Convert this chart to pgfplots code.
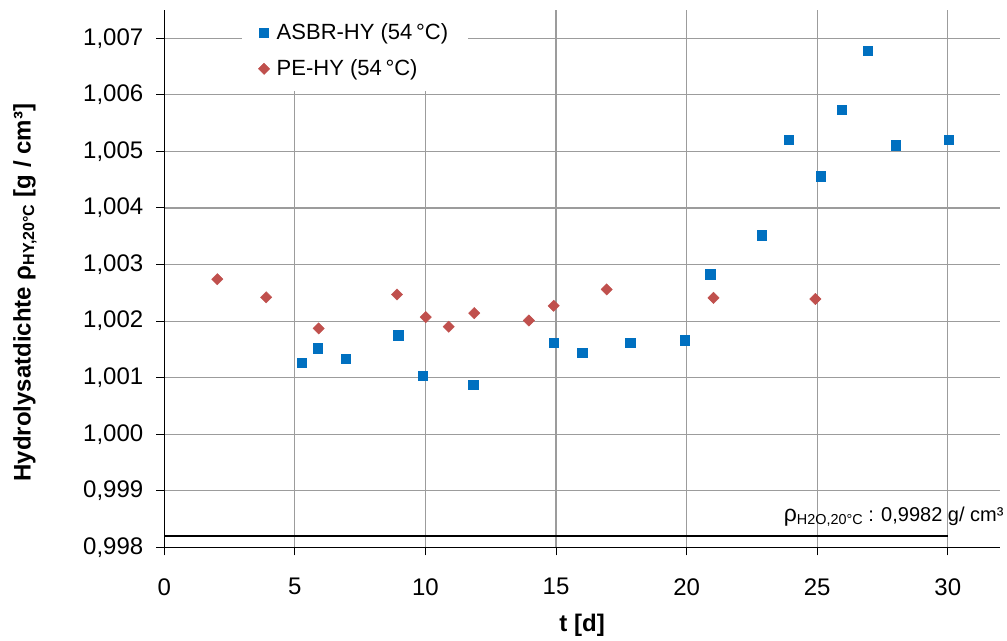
\documentclass[border=0pt]{standalone}
\usepackage{fontspec}
\setmainfont{Liberation Sans}
\usepackage{pgfplots}
\pgfplotsset{compat=1.18}
\definecolor{asbr}{HTML}{0070C0}
\definecolor{pe}{HTML}{C0504D}
\definecolor{gridc}{HTML}{9C9C9C}
\begin{document}
\begin{tikzpicture}
\begin{axis}[
  scale only axis, width=417.85pt, height=268.65pt,
  xmin=0, xmax=32, ymin=0.998, ymax=1.0075,
  axis x line*=bottom, axis y line*=left,
  xtick={0,5,10,15,20,25,30},
  ytick={0.998,0.999,1.000,1.001,1.002,1.003,1.004,1.005,1.006,1.007},
  grid=major, major grid style={gridc, line width=0.55pt},
  tick align=outside, major tick length=4pt,
  tick style={black, line width=0.5pt},
  axis line style={black, line width=0.65pt},
  scaled y ticks=false,
  yticklabel style={xshift=-3pt, /pgf/number format/.cd, fixed, fixed zerofill, precision=3, use comma, assume math mode=true},
  xticklabel style={yshift=-8pt, /pgf/number format/assume math mode=true},
  ticklabel style={font=\fontsize{12}{14}\selectfont},
  clip=false,
  every axis y label/.style={at={(axis description cs:-0.1667,0.474)}, rotate=90, anchor=center, font=\fontsize{12}{14}\selectfont\bfseries},
  every axis x label/.style={at={(axis description cs:0.5,-0.1446)}, anchor=center, font=\fontsize{12}{14}\selectfont\bfseries},
  ylabel={Hydrolysatdichte ρ\textsubscript{HY,20°C} [g / cm³]},
  xlabel={t [d]},
  legend style={at={(0.093,1)}, anchor=north west, draw=none, fill=white, font=\fontsize{11}{13}\selectfont, inner xsep=8pt, inner ysep=4.5pt, row sep=4.5pt, /tikz/column sep=1.5pt},
  legend cell align=left,
  legend image code/.code={\draw[#1] plot coordinates {(0pt,0pt)};},
]
\addplot[black, line width=1.35pt, forget plot] coordinates {(0,0.9982) (30,0.9982)};
\addplot[only marks, mark=square*, mark size=2.3pt, mark options={fill=asbr, draw=asbr, line width=0.2pt}] coordinates {
(5.26,1.00126) (5.86,1.00152) (6.95,1.00133) (8.96,1.00175) (9.90,1.00104)
(11.83,1.00088) (14.91,1.00162) (16.0,1.00144) (17.84,1.00162) (19.94,1.00166)
(20.9,1.00283) (22.89,1.00352) (23.9,1.00520) (25.14,1.00456) (25.94,1.00574)
(26.93,1.00678) (28.01,1.00511) (30.04,1.00520)};
\addlegendentry{ASBR-HY (54\,°C)}
\addplot[only marks, mark=square*, mark size=2.0pt, mark options={rotate=45, fill=pe, draw=pe, line width=0.2pt}] coordinates {
(2.03,1.00274) (3.90,1.00242) (5.91,1.00187) (8.91,1.00247) (10.01,1.00207)
(10.89,1.00190) (11.87,1.00214) (13.96,1.00201) (14.91,1.00227) (16.94,1.00256)
(21.03,1.00241) (24.93,1.00239)};
\addlegendentry{PE-HY (54\,°C)}
\node[anchor=base east, inner sep=0pt] at (axis cs:32.15,0.99845) {{\fontsize{11.5}{12}\selectfont ρ}\raisebox{-1.3pt}{\fontsize{7.2}{8}\selectfont H2O,20°C} {\fontsize{10}{12}\selectfont : 0,9982 g/ cm³}};
\end{axis}
\pgfresetboundingbox
\useasboundingbox (-82.15pt,-46.85pt) rectangle (421.35pt,273.65pt);
\end{tikzpicture}
\end{document}
